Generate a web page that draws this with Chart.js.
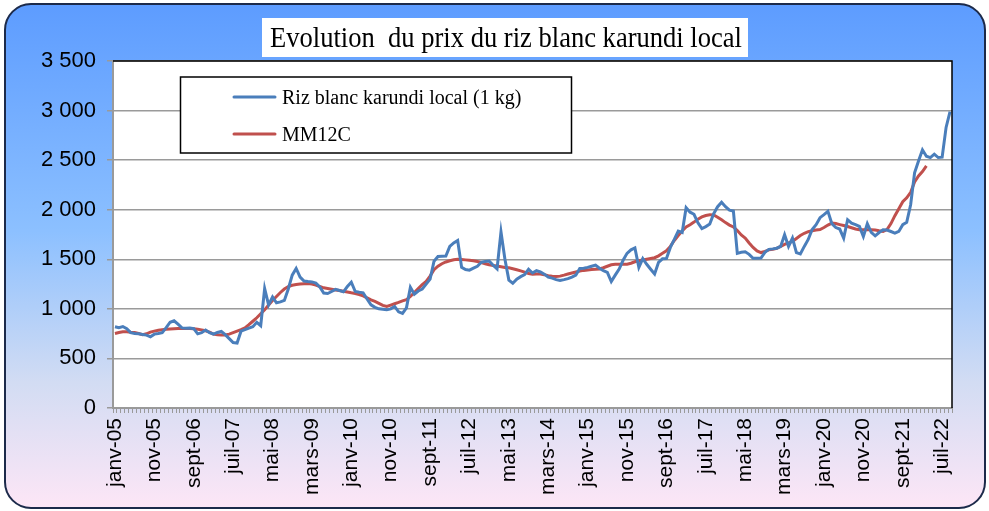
<!DOCTYPE html>
<html>
<head>
<meta charset="utf-8">
<title>Evolution du prix du riz blanc karundi local</title>
<script src="https://cdn.jsdelivr.net/npm/chart.js@4/dist/chart.umd.min.js"></script>
<style>
  html, body { margin: 0; padding: 0; background: #ffffff; }
  canvas { display: block; }
</style>
</head>
<body>
<canvas id="rizChart" width="989" height="511"></canvas>
<script>
const titre = 'Evolution  du prix du riz blanc karundi local';
const nomSerie = 'Riz blanc karundi local (1 kg)';
const nomMoyenne = 'MM12C';

// mois abrégés pour les étiquettes de l'axe
const moisNoms = ['janv', 'févr', 'mars', 'avr', 'mai', 'juin', 'juil', 'août', 'sept', 'oct', 'nov', 'déc'];
const anneeDebut = 2005;
const pasEtiquette = 10; // une étiquette tous les 10 mois

// prix mensuel du kg, de janv-05 à sept-22
const prixRiz = [
  820, 810, 822, 800, 760, 752, 748, 742, 735, 718, 745, 752,
  760, 810, 865, 880, 845, 808, 805, 806, 800, 748, 760, 786,
  760, 746, 762, 772, 740, 700, 660, 655, 775, 790, 806, 820,
  864, 830, 1204, 1040, 1120, 1060, 1070, 1085, 1200, 1340, 1408, 1320,
  1280, 1275, 1272, 1260, 1222, 1160, 1155, 1175, 1197, 1185, 1172, 1225,
  1269, 1175, 1168, 1162, 1100, 1040, 1015, 1000, 995, 990, 1000, 1024,
  970, 955, 1010, 1217, 1148, 1180, 1200, 1250, 1300, 1480, 1528, 1530,
  1532, 1630, 1665, 1690, 1420, 1397, 1390, 1410, 1430, 1470, 1478, 1483,
  1440, 1404, 1776, 1500, 1290, 1259, 1300, 1325, 1345, 1400, 1362, 1385,
  1372, 1350, 1319, 1310, 1295, 1286, 1295, 1305, 1320, 1340, 1408, 1410,
  1418, 1430, 1441, 1410, 1385, 1368, 1276, 1340, 1401, 1490, 1560, 1595,
  1615, 1418, 1507, 1450, 1400, 1352, 1470, 1505, 1507, 1620, 1700, 1785,
  1770, 2020, 1975, 1954, 1868, 1810, 1830, 1855, 1960, 2030, 2076, 2030,
  1995, 1987, 1560, 1570, 1575, 1550, 1510, 1510, 1512, 1570, 1600, 1605,
  1612, 1629, 1747, 1629, 1713, 1568, 1554, 1630, 1700, 1800, 1849, 1920,
  1950, 1984, 1860, 1820, 1805, 1713, 1899, 1865, 1850, 1832, 1730, 1859,
  1771, 1737, 1770, 1798, 1795, 1780, 1764, 1781, 1849, 1872, 2050, 2373,
  2492, 2604, 2540, 2526, 2560, 2526, 2530, 2830, 2989
];

// moyenne mobile centrée sur 12 mois (s'arrête six mois avant la fin)
const mm12c = [
  752, 762, 769, 768, 764, 762, 752, 740, 748, 765, 775, 785,
  790, 795, 798, 800, 802, 803, 803, 803, 800, 795, 788, 779,
  765, 745, 738, 736, 737, 745, 760, 775, 790, 808, 840, 875,
  910, 950, 990, 1040, 1085, 1125, 1165, 1200, 1225, 1238, 1245, 1250,
  1253, 1255, 1250, 1240, 1225, 1212, 1205, 1198, 1190, 1185, 1178, 1170,
  1162, 1155, 1145, 1130, 1110, 1090, 1075, 1055, 1035, 1024, 1038, 1052,
  1065, 1080, 1093, 1125, 1165, 1205, 1245, 1276, 1330, 1395, 1430, 1455,
  1473, 1485, 1495, 1500, 1498, 1494, 1490, 1485, 1478, 1468, 1455, 1445,
  1438, 1432, 1425, 1418, 1414, 1405, 1395, 1383, 1370, 1356, 1350, 1352,
  1352, 1345, 1335, 1328, 1326, 1330, 1340, 1352, 1362, 1372, 1382, 1388,
  1393, 1397, 1400, 1402, 1415, 1430, 1445, 1451, 1451, 1451, 1451, 1460,
  1475, 1485, 1492, 1500, 1508, 1516, 1535, 1560, 1585, 1630, 1690, 1740,
  1785, 1825, 1848, 1875, 1905, 1928, 1942, 1950, 1948, 1925, 1898, 1870,
  1845, 1826, 1790, 1745, 1715, 1665, 1620, 1585, 1568, 1580, 1595, 1600,
  1610, 1630, 1650, 1665, 1680, 1710, 1740, 1762, 1778, 1788, 1795, 1800,
  1820, 1845, 1865, 1860, 1850, 1840, 1830, 1818, 1805, 1798, 1798, 1798,
  1798, 1795, 1788, 1782, 1800, 1860, 1940, 2010, 2080, 2120, 2175, 2280,
  2340, 2385, 2441, null, null, null, null, null, null
];

const yMin = 0, yMax = 3500, yPas = 500;

// janv-05, févr-05, ...
const etiquettes = prixRiz.map((v, i) => {
  const an = (anneeDebut + Math.floor(i / 12)) % 100;
  return moisNoms[i % 12] + '-' + String(an).padStart(2, '0');
});

function formatMilliers(v) {
  return String(v).replace(/\B(?=(\d{3})+(?!\d))/g, ' ');
}

const bleu = '#4a7ebb';
const rouge = '#c0504d';
const gris = '#9a9a9a';

// fond dégradé avec cadre arrondi + zone de tracé blanche
const fondPlugin = {
  id: 'fond',
  beforeDraw(chart) {
    const ctx = chart.ctx;
    const w = chart.width, h = chart.height;
    ctx.save();
    ctx.fillStyle = '#ffffff';
    ctx.fillRect(0, 0, w, h);
    const g = ctx.createLinearGradient(0, 4, 0, h - 3);
    g.addColorStop(0, '#5d9cff');
    g.addColorStop(0.45, '#8cc0ff');
    g.addColorStop(0.75, '#d2dcf3');
    g.addColorStop(1, '#fde6f6');
    ctx.beginPath();
    ctx.roundRect(5, 4, w - 9, h - 7, 26);
    ctx.fillStyle = g;
    ctx.fill();
    ctx.lineWidth = 2;
    ctx.strokeStyle = '#1c2a4a';
    ctx.stroke();
    const a = chart.chartArea;
    ctx.fillStyle = '#ffffff';
    ctx.fillRect(a.left, a.top, a.right - a.left, a.bottom - a.top);
    ctx.restore();
  },
  afterDraw(chart) {
    const ctx = chart.ctx;
    const a = chart.chartArea;
    ctx.save();
    // bord noir haut et droite de la zone de tracé
    ctx.strokeStyle = '#000000';
    ctx.lineWidth = 1.5;
    ctx.beginPath();
    ctx.moveTo(a.left, a.top);
    ctx.lineTo(a.right, a.top);
    ctx.lineTo(a.right, a.bottom);
    ctx.stroke();

    // titre dans son cartouche blanc
    ctx.fillStyle = '#ffffff';
    ctx.fillRect(262, 18, 486, 39);
    ctx.fillStyle = '#000000';
    ctx.font = '30px "Liberation Serif", "Times New Roman", serif';
    ctx.textAlign = 'center';
    ctx.textBaseline = 'alphabetic';
    ctx.translate(506, 47);
    ctx.scale(0.885, 1);
    ctx.fillText(titre, 0, 0);
    ctx.setTransform(1, 0, 0, 1, 0, 0);

    // légende
    ctx.fillStyle = '#ffffff';
    ctx.fillRect(180.5, 77, 391, 76);
    ctx.strokeStyle = '#000000';
    ctx.lineWidth = 1.5;
    ctx.strokeRect(180.5, 77, 391, 76);
    ctx.lineWidth = 3;
    ctx.lineCap = 'round';
    ctx.strokeStyle = bleu;
    ctx.beginPath(); ctx.moveTo(234, 97); ctx.lineTo(275, 97); ctx.stroke();
    ctx.strokeStyle = rouge;
    ctx.beginPath(); ctx.moveTo(234, 134); ctx.lineTo(275, 134); ctx.stroke();
    ctx.fillStyle = '#000000';
    ctx.textAlign = 'left';
    ctx.font = '20px "Liberation Serif", "Times New Roman", serif';
    ctx.fillText(nomSerie, 282, 104);
    ctx.fillText(nomMoyenne, 282, 141);
    ctx.restore();
  }
};

const ctx = document.getElementById('rizChart').getContext('2d');
new Chart(ctx, {
  type: 'line',
  data: {
    labels: etiquettes,
    datasets: [
      {
        label: nomSerie,
        data: prixRiz,
        borderColor: bleu,
        borderWidth: 3,
        pointRadius: 0,
        tension: 0,
        fill: false
      },
      {
        label: nomMoyenne,
        data: mm12c,
        borderColor: rouge,
        borderWidth: 3,
        pointRadius: 0,
        tension: 0,
        fill: false,
        spanGaps: false
      }
    ]
  },
  options: {
    responsive: false,
    animation: false,
    layout: { padding: { top: 61, right: 37, left: 0, bottom: 0 } },
    plugins: {
      legend: { display: false },
      title: { display: false },
      tooltip: { enabled: false }
    },
    scales: {
      x: {
        type: 'category',
        offset: true,
        afterFit: (scale) => { scale.height = 103; },
        grid: {
          offset: true,
          drawOnChartArea: false,
          drawTicks: true,
          tickLength: 5,
          color: gris,
          lineWidth: 1
        },
        border: { color: gris, width: 2 },
        ticks: {
          autoSkip: false,
          minRotation: 90,
          maxRotation: 90,
          padding: 5,
          color: '#000000',
          font: { family: '"Liberation Sans", Arial, sans-serif', size: 21 },
          callback: function (val, idx) {
            return idx % pasEtiquette === 0 ? this.getLabelForValue(val) : '';
          }
        }
      },
      y: {
        min: yMin,
        max: yMax,
        afterFit: (scale) => { scale.width = 113; },
        grid: {
          color: gris,
          lineWidth: 1.5,
          drawTicks: true,
          tickLength: 6
        },
        border: { color: gris, width: 2 },
        ticks: {
          stepSize: yPas,
          padding: 11,
          color: '#000000',
          font: { family: '"Liberation Sans", Arial, sans-serif', size: 22 },
          callback: (v) => formatMilliers(v)
        }
      }
    }
  },
  plugins: [fondPlugin]
});
</script>
</body>
</html>
